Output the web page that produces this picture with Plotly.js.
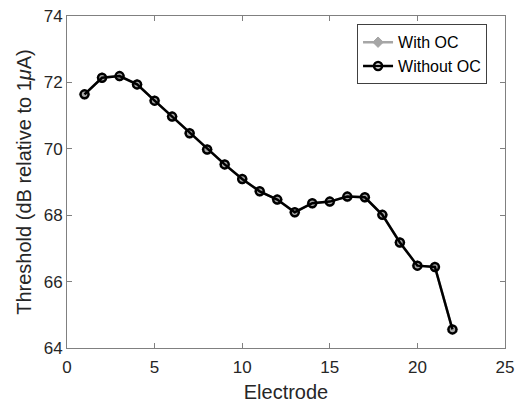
<!DOCTYPE html>
<html><head><meta charset="utf-8">
<script src="https://cdn.plot.ly/plotly-3.0.1.min.js"></script>
<style>html,body{margin:0;padding:0;background:#fff}#chart{width:517px;height:407px}</style>
</head><body><div id="chart"></div>
<script>
const electrodes = [1,2,3,4,5,6,7,8,9,10,11,12,13,14,15,16,17,18,19,20,21,22];
const withOC = [71.64,72.14,72.19,71.94,71.45,70.97,70.47,69.98,69.53,69.09,68.72,68.47,68.09,68.36,68.41,68.56,68.54,68.01,67.18,66.48,66.44,64.56];
const withoutOC = [71.64,72.14,72.19,71.94,71.45,70.97,70.47,69.98,69.53,69.09,68.72,68.47,68.09,68.36,68.41,68.56,68.54,68.01,67.18,66.48,66.44,64.56];
const seriesNames = ["With OC","Without OC"];
const xTicks = [0,5,10,15,20,25];
const yTicks = [64,66,68,70,72,74];

const font = {family: "Liberation Sans, Arial, sans-serif", color: "#262626"};
const axisBase = {
  showline: true, mirror: 'ticks', linecolor: '#808080', linewidth: 1,
  ticks: 'inside', ticklen: 5, tickcolor: '#808080', showgrid: false, zeroline: false,
  tickfont: {family: font.family, size: 17, color: '#262626'}
};
const traces = [
  {x: electrodes, y: withOC, name: seriesNames[0], mode: 'lines+markers',
   line: {color: '#a6a6a6', width: 2.5},
   marker: {symbol: 'diamond', size: 8, color: '#a6a6a6', line: {color: '#a6a6a6', width: 1}}},
  {x: electrodes, y: withoutOC, name: seriesNames[1], mode: 'lines+markers',
   line: {color: '#000000', width: 2.5},
   marker: {symbol: 'circle-open', size: 8, color: '#000000', line: {color: '#000000', width: 2.5}}}
];
const layout = {
  width: 517, height: 407,
  margin: {l: 67, r: 12, t: 16, b: 59},
  paper_bgcolor: '#fff', plot_bgcolor: '#fff',
  font: font,
  showlegend: true,
  legend: {x: 0.959, xanchor: 'right', y: 0.975, yanchor: 'top',
    bordercolor: '#404040', borderwidth: 1, bgcolor: '#fff',
    font: {family: font.family, size: 16, color: '#000'}, tracegroupgap: 0, itemwidth: 30},
  xaxis: Object.assign({}, axisBase, {range: [0,25], tickvals: xTicks, ticklabelstandoff: 4,
    title: {text: 'Electrode', font: {family: font.family, size: 20, color: '#262626'}, standoff: 8}}),
  yaxis: Object.assign({}, axisBase, {range: [64,74], tickvals: yTicks,
    title: {text: 'Threshold (dB relative to 1<i>μ</i>A)', font: {family: font.family, size: 20, color: '#262626'}, standoff: 6}})
};
Plotly.newPlot('chart', traces, layout, {displayModeBar: false, staticPlot: true});
</script></body></html>
